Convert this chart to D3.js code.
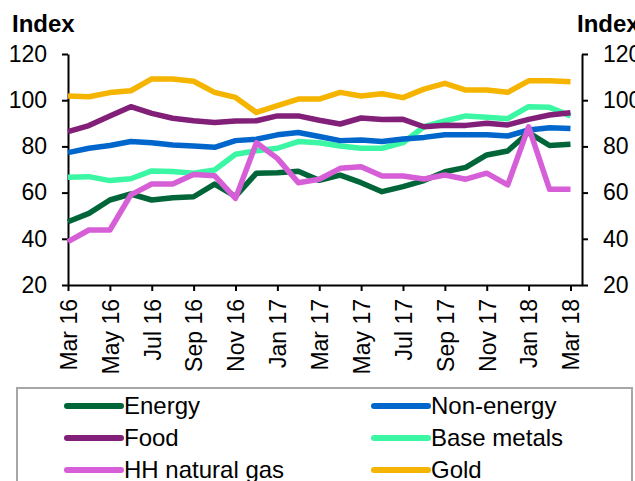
<!DOCTYPE html>
<html>
<head>
<meta charset="utf-8">
<script src="https://cdn.jsdelivr.net/npm/d3@7"></script>
<style>
  html, body { margin: 0; padding: 0; background: #fff; }
  svg { display: block; font-family: Arial, "Liberation Sans", sans-serif; }
</style>
</head>
<body>
<svg id="chart" width="635" height="481"></svg>
<script>
// Monthly commodity price indices, Mar 2016 – Mar 2018
const months = ["Mar 16","Apr 16","May 16","Jun 16","Jul 16","Aug 16","Sep 16","Oct 16","Nov 16","Dec 16",
                "Jan 17","Feb 17","Mar 17","Apr 17","May 17","Jun 17","Jul 17","Aug 17","Sep 17","Oct 17",
                "Nov 17","Dec 17","Jan 18","Feb 18","Mar 18"];
const energy    = [47.4,51.0,56.8,59.4,56.8,57.8,58.2,63.7,58.4,68.4,68.6,69.2,65.3,67.6,64.3,60.4,62.6,65.2,69.0,70.9,76.3,78.0,86.0,80.4,80.9];
const nonEnergy = [77.3,79.2,80.4,82.1,81.6,80.6,80.2,79.6,82.5,83.1,85.0,86.0,84.3,82.5,82.8,82.1,83.2,83.9,85.0,85.0,85.0,84.5,87.1,88.1,87.8];
const food      = [86.4,89.0,93.2,97.2,94.3,92.2,91.1,90.3,91.0,91.1,93.2,93.2,91.3,89.7,92.3,91.6,91.7,88.5,89.2,89.1,90.0,89.3,91.7,93.6,94.6];
const baseMetals= [66.6,66.9,65.2,66.0,69.4,69.1,68.4,69.8,76.6,78.1,79.2,82.1,81.6,80.2,79.2,79.2,81.6,88.5,91.0,93.2,92.6,92.0,97.2,96.9,93.2];
const hhGas     = [38.8,43.8,43.8,59.0,63.7,63.7,67.8,67.3,57.5,81.6,74.8,64.3,65.8,70.5,71.2,67.2,67.2,65.9,67.6,65.8,68.4,63.3,88.5,61.4,61.4];
const gold      = [101.8,101.5,103.3,104.1,109.2,109.2,108.2,103.4,101.2,94.7,97.6,100.5,100.5,103.4,101.8,102.8,101.1,104.8,107.3,104.4,104.4,103.4,108.4,108.4,108.0];
const yTicks = [20, 40, 60, 80, 100, 120];

const seriesNames  = ["Energy", "Non-energy", "Food", "Base metals", "HH natural gas", "Gold"];
const seriesValues = [energy, nonEnergy, food, baseMetals, hhGas, gold];
const seriesColors = ["#00663A", "#0066CC", "#822079", "#3BF7A3", "#D65ED6", "#F5B400"];
// draw order: bottom to top
const drawOrder = [3, 1, 2, 0, 5, 4];

const svg = d3.select("#chart");
const plotLeft = 68, plotRight = 582, plotTop = 54, plotBottom = 285;

const x = d3.scaleLinear().domain([0, months.length - 1 + 0.55]).range([plotLeft, plotRight]);
const y = d3.scaleLinear().domain([20, 120]).range([plotBottom, plotTop]);

const tickFont = 23;

// axes
const yLeft = d3.axisLeft(y).tickValues(yTicks).tickSize(6).tickSizeOuter(0).tickPadding(15);
const yRight = d3.axisRight(y).tickValues(yTicks).tickSize(6).tickSizeOuter(0).tickPadding(15);
const xAxis = d3.axisBottom(x)
  .tickValues(d3.range(0, months.length, 2))
  .tickFormat(i => months[i])
  .tickSize(6).tickSizeOuter(0);

function styleAxis(g) {
  g.select(".domain").attr("stroke", "#000").attr("stroke-width", 2);
  g.selectAll(".tick line").attr("stroke", "#000").attr("stroke-width", 2);
  g.selectAll("text").attr("fill", "#000").style("font-size", tickFont + "px")
    .style("font-family", "Arial, 'Liberation Sans', sans-serif");
}

svg.append("g").attr("transform", `translate(${plotLeft},0)`).call(yLeft).call(styleAxis);
svg.append("g").attr("transform", `translate(${plotRight},0)`).call(yRight).call(styleAxis);
const gx = svg.append("g").attr("transform", `translate(0,${plotBottom})`).call(xAxis).call(styleAxis);
gx.selectAll("text")
  .attr("transform", "rotate(-90)")
  .attr("text-anchor", "end")
  .attr("x", -14)
  .attr("y", 0)
  .attr("dy", "0.36em");

// axis titles
svg.append("text").attr("x", 12).attr("y", 32)
  .style("font-size", "24px").style("font-weight", "bold").text("Index");
svg.append("text").attr("x", 577).attr("y", 32)
  .style("font-size", "24px").style("font-weight", "bold").text("Index");

// lines
const line = d3.line().x((d, i) => x(i)).y(d => y(d));
svg.append("g").selectAll("path")
  .data(drawOrder)
  .join("path")
  .attr("d", k => line(seriesValues[k]))
  .attr("fill", "none")
  .attr("stroke", k => seriesColors[k])
  .attr("stroke-width", 5.5)
  .attr("stroke-linejoin", "round");

// legend
const legend = svg.append("g");
legend.append("rect").attr("x", 17).attr("y", 388).attr("width", 615).attr("height", 100)
  .attr("fill", "none").attr("stroke", "#A6A6A6").attr("stroke-width", 2);
const colX = [67, 374], rowY = [406, 438, 470];
seriesNames.forEach((name, k) => {
  const cx = colX[k % 2], cy = rowY[Math.floor(k / 2)];
  legend.append("line").attr("x1", cx).attr("x2", cx + 54).attr("y1", cy).attr("y2", cy)
    .attr("stroke", seriesColors[k]).attr("stroke-width", 6).attr("stroke-linecap", "round");
  legend.append("text").attr("x", cx + 57).attr("y", cy).attr("dy", "0.35em")
    .style("font-size", "24px").attr("fill", "#000").text(name);
});
</script>
</body>
</html>
